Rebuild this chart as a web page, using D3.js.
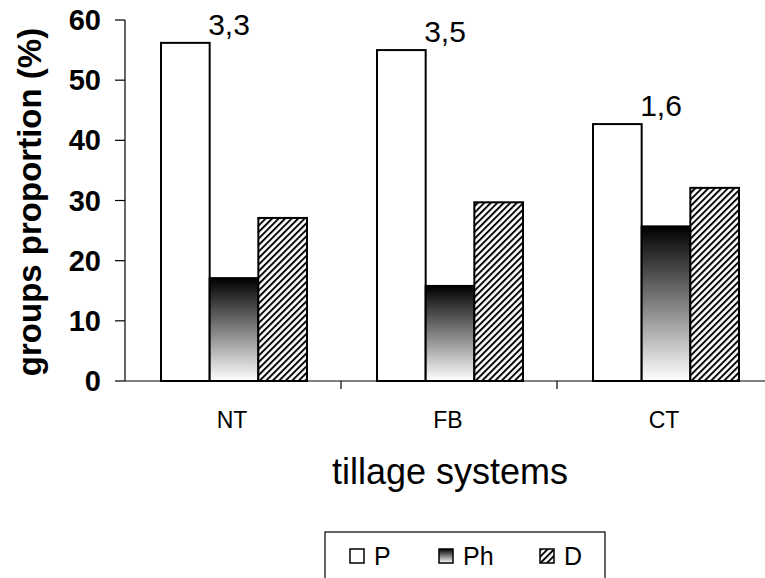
<!DOCTYPE html>
<html>
<head>
<meta charset="utf-8">
<script src="https://cdn.jsdelivr.net/npm/d3@7/dist/d3.min.js"></script>
<style>
  body { margin: 0; background: #fff; }
  svg { display: block; font-family: "Liberation Sans", Arial, sans-serif; }
</style>
</head>
<body>
<svg class="chart" width="765" height="578"></svg>
<script>
// values
const categories = ["NT", "FB", "CT"];
const groups = ["P", "Ph", "D"];
const pValues = [56.2, 55.0, 42.7];
const phValues = [17.1, 15.8, 25.7];
const dValues = [27.1, 29.7, 32.1];
const topLabels = ["3,3", "3,5", "1,6"];
const yTicks = [0, 10, 20, 30, 40, 50, 60];

const svg = d3.select(".chart");

const data = categories.map((c, i) => ({
  cat: c, P: pValues[i], Ph: phValues[i], D: dValues[i], label: topLabels[i]
}));

// scales
const y = d3.scaleLinear().domain([0, 60]).range([381, 20]);
const x0 = d3.scaleBand().domain(categories).range([125, 773]).padding(0);
const x1 = d3.scaleBand().domain(groups).range([36, 182]).padding(0);
const groupMid = (x1.range()[0] + x1.range()[1]) / 2;

// fills
const defs = svg.append("defs");
const grad = defs.append("linearGradient")
  .attr("id", "phGrad").attr("x1", 0).attr("y1", 0).attr("x2", 0).attr("y2", 1);
grad.append("stop").attr("offset", "0%").attr("stop-color", "#000");
grad.append("stop").attr("offset", "100%").attr("stop-color", "#fff");

const hatch = defs.append("pattern")
  .attr("id", "hatch").attr("patternUnits", "userSpaceOnUse")
  .attr("width", 4.6).attr("height", 4.6)
  .attr("patternTransform", "rotate(45)");
hatch.append("rect").attr("width", 4.6).attr("height", 4.6).attr("fill", "#fff");
hatch.append("line").attr("x1", 1).attr("y1", 0).attr("x2", 1).attr("y2", 4.6)
  .attr("stroke", "#000").attr("stroke-width", 1.9);

const fills = { P: "#fff", Ph: "url(#phGrad)", D: "url(#hatch)" };

// bars
const g = svg.selectAll(".grp")
  .data(data)
  .enter().append("g")
  .attr("class", "grp")
  .attr("transform", d => `translate(${x0(d.cat)},0)`);

g.selectAll("rect")
  .data(d => groups.map(k => ({ key: k, value: d[k] })))
  .enter().append("rect")
  .attr("x", d => x1(d.key))
  .attr("y", d => y(d.value))
  .attr("width", x1.bandwidth())
  .attr("height", d => y(0) - y(d.value))
  .attr("fill", d => fills[d.key])
  .attr("stroke", "#000")
  .attr("stroke-width", 2);

// labels above the groups
g.append("text")
  .attr("x", groupMid - 5)
  .attr("y", d => y(d.P) - 8)
  .attr("text-anchor", "middle")
  .style("font-size", "30px")
  .text(d => d.label);

// y axis
const yAxis = svg.append("g");
yAxis.append("line")
  .attr("x1", 125).attr("x2", 125).attr("y1", y(60)).attr("y2", y(0))
  .attr("stroke", "#000").attr("stroke-width", 1.2);
yAxis.selectAll(".tk")
  .data(yTicks)
  .enter().append("line")
  .attr("x1", 115).attr("x2", 125)
  .attr("y1", d => y(d)).attr("y2", d => y(d))
  .attr("stroke", "#000").attr("stroke-width", 1.2);
yAxis.selectAll(".tl")
  .data(yTicks)
  .enter().append("text")
  .attr("x", 101)
  .attr("y", d => y(d) + 10)
  .attr("text-anchor", "end")
  .style("font-size", "29px")
  .style("font-weight", "bold")
  .text(d => d);

// x axis
svg.append("line")
  .attr("x1", 125).attr("x2", 765).attr("y1", y(0)).attr("y2", y(0))
  .attr("stroke", "#000").attr("stroke-width", 1.2);
svg.selectAll(".xt")
  .data(categories.slice(1))
  .enter().append("line")
  .attr("x1", d => x0(d)).attr("x2", d => x0(d))
  .attr("y1", y(0)).attr("y2", y(0) + 8)
  .attr("stroke", "#000").attr("stroke-width", 1.2);
svg.selectAll(".xl")
  .data(categories)
  .enter().append("text")
  .attr("x", d => x0(d) + groupMid - 2)
  .attr("y", 428)
  .attr("text-anchor", "middle")
  .style("font-size", "23px")
  .text(d => d);

// axis titles
svg.append("text")
  .attr("x", 450).attr("y", 484)
  .attr("text-anchor", "middle")
  .style("font-size", "36px")
  .text("tillage systems");

svg.append("text")
  .attr("transform", "translate(41,202) rotate(-90)")
  .attr("text-anchor", "middle")
  .style("font-size", "33px")
  .style("font-weight", "bold")
  .text("groups proportion (%)");

// legend
const legend = svg.append("g");
legend.append("rect")
  .attr("x", 325).attr("y", 532).attr("width", 280).attr("height", 70)
  .attr("fill", "#fff").attr("stroke", "#000").attr("stroke-width", 1.2);
const legX = d3.scaleOrdinal().domain(groups).range([350, 439, 540]);
const items = legend.selectAll(".li")
  .data(groups)
  .enter().append("g")
  .attr("transform", d => `translate(${legX(d)},549)`);
items.append("rect")
  .attr("width", 14).attr("height", 14)
  .attr("fill", d => fills[d])
  .attr("stroke", "#000").attr("stroke-width", 1.5);
items.append("text")
  .attr("x", 24).attr("y", 16)
  .style("font-size", "25px")
  .text(d => d);
</script>
</body>
</html>
